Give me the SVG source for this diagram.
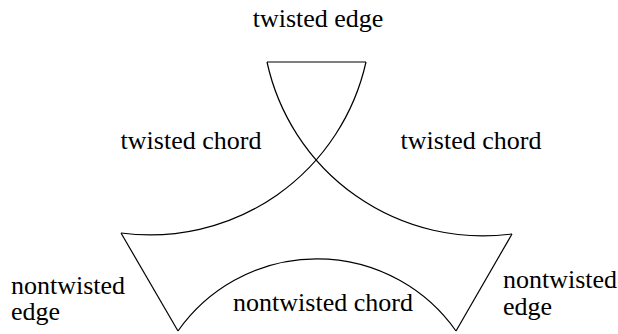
<svg xmlns="http://www.w3.org/2000/svg" width="618" height="334" viewBox="0 0 618 334">
<style>
.ln{fill:none;stroke:#000;stroke-width:1.2}
.lb{font-family:"Liberation Serif","Times New Roman",serif;font-size:26px;fill:#000}
.c{text-anchor:middle}
</style>
<rect width="618" height="334" fill="#fff"/>
<g id="connectors">
<path id="twisted-edge" class="ln" d="M267,62 L366,62"/>
<path id="twisted-chord-left" class="ln" d="M366,62 A221,221 0 0 1 121,233"/>
<path id="twisted-chord-right" class="ln" d="M267,62 A221,221 0 0 0 512,234"/>
<path id="nontwisted-edge-left" class="ln" d="M121,233 L178,331"/>
<path id="nontwisted-edge-right" class="ln" d="M512,234 L456,331"/>
<path id="nontwisted-chord" class="ln" d="M178,331 A170,170 0 0 1 456,331"/>
</g>
<g id="label-twisted-edge"><text class="lb c" x="318" y="27">twisted edge</text></g>
<g id="label-twisted-chord-left"><text class="lb c" x="191" y="149">twisted chord</text></g>
<g id="label-twisted-chord-right"><text class="lb c" x="471" y="149">twisted chord</text></g>
<g id="label-nontwisted-edge-left"><text class="lb" x="11" y="294"><tspan x="11">nontwisted</tspan><tspan x="11" y="320">edge</tspan></text></g>
<g id="label-nontwisted-edge-right"><text class="lb" x="503" y="288"><tspan x="503">nontwisted</tspan><tspan x="503" y="315">edge</tspan></text></g>
<g id="label-nontwisted-chord"><text class="lb c" x="323" y="311">nontwisted chord</text></g>
</svg>
